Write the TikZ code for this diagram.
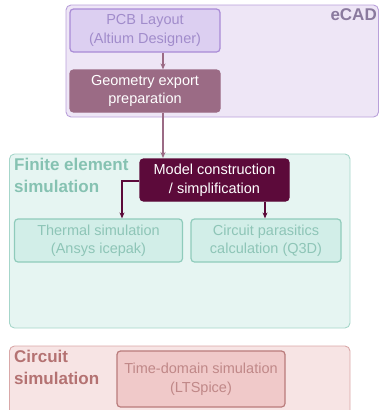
\documentclass[tikz,border=0pt]{standalone}
\usepackage{fontspec}
\setmainfont{Liberation Sans}
\usetikzlibrary{arrows.meta}
\definecolor{ecadbg}{HTML}{EEE6F6}
\definecolor{ecadbd}{HTML}{B9A0DA}
\definecolor{ecadtx}{HTML}{8A7A9E}
\definecolor{pcbfill}{HTML}{DCCFF1}
\definecolor{pcbbd}{HTML}{A98BD6}
\definecolor{pcbtx}{HTML}{A18CCB}
\definecolor{geofill}{HTML}{9B6B85}
\definecolor{febg}{HTML}{E6F5F2}
\definecolor{febd}{HTML}{A6D6CA}
\definecolor{fetx}{HTML}{86C2B2}
\definecolor{modfill}{HTML}{5C0A3A}
\definecolor{thfill}{HTML}{D2EEE8}
\definecolor{thbd}{HTML}{8FCBBB}
\definecolor{thtx}{HTML}{8EC5B7}
\definecolor{csbg}{HTML}{F7E4E4}
\definecolor{csbd}{HTML}{D9A8A8}
\definecolor{cstx}{HTML}{B47272}
\definecolor{tdfill}{HTML}{F0C9C9}
\definecolor{tdbd}{HTML}{B97B7B}
\definecolor{tdtx}{HTML}{C08888}
\tikzset{
  grp/.style={rounded corners=5pt, line width=0.9pt},
  box/.style={rounded corners=3.5pt, line width=1.2pt, align=center, inner sep=0pt,
    font=\fontsize{14.5}{18.5}\selectfont},
  ttl/.style={font=\fontsize{17}{22}\selectfont\bfseries, align=left, inner sep=0pt, anchor=north west},
  arr/.style={-{Stealth[length=6pt,width=5pt]}, line width=1.3pt},
}
\begin{document}
\begin{tikzpicture}[x=1pt,y=-1pt]
\useasboundingbox (0,0) rectangle (379,410);
% groups
\draw[grp, fill=ecadbg, draw=ecadbd] (66,5) rectangle (378.5,117);
\node[ttl, text=ecadtx, anchor=north east] (ecad) at (377,8) {eCAD};
\draw[grp, fill=febg, draw=febd] (9.5,154) rectangle (350,328);
\node[ttl, text=fetx] (fe) at (14,158) {Finite element\\simulation};
\draw[grp, fill=csbg, draw=csbd] (9.5,346) rectangle (350,415);
\node[ttl, text=cstx] (cs) at (14,350) {Circuit\\simulation};
% boxes
\node[box, fill=pcbfill, draw=pcbbd, text=pcbtx, minimum width=150pt, minimum height=43pt] (pcb) at (145,30.5) {PCB Layout\\(Altium Designer)};
\node[box, fill=geofill, draw=geofill, text=white, minimum width=150pt, minimum height=42pt] (geo) at (145,91) {Geometry export\\preparation};
\node[box, fill=modfill, draw=modfill, text=white, minimum width=149pt, minimum height=42pt] (mod) at (214.5,180) {Model construction\\/ simplification};
\node[box, fill=thfill, draw=thbd, text=thtx, minimum width=168pt, minimum height=43pt] (th) at (98.5,240.5) {Thermal simulation\\(Ansys icepak)};
\node[box, fill=thfill, draw=thbd, text=thtx, minimum width=150pt, minimum height=43pt] (cp) at (266,240.5) {Circuit parasitics\\calculation (Q3D)};
\node[box, fill=tdfill, draw=tdbd, text=tdtx, minimum width=168pt, minimum height=56pt] (td) at (201,379) {Time-domain simulation\\(LTSpice)};
% connectors
\draw[arr, draw=geofill] (pcb.south -| 163,0) -- (geo.north -| 163,0);
\draw[arr, draw=geofill] (geo.south -| 163,0) -- (163,158);
\draw[arr, draw=modfill] (mod.west |- 0,181) -- (122,181) -- (th.north -| 122,0);
\draw[arr, draw=modfill] (mod.south -| 265,0) -- (cp.north -| 265,0);
\end{tikzpicture}
\end{document}
